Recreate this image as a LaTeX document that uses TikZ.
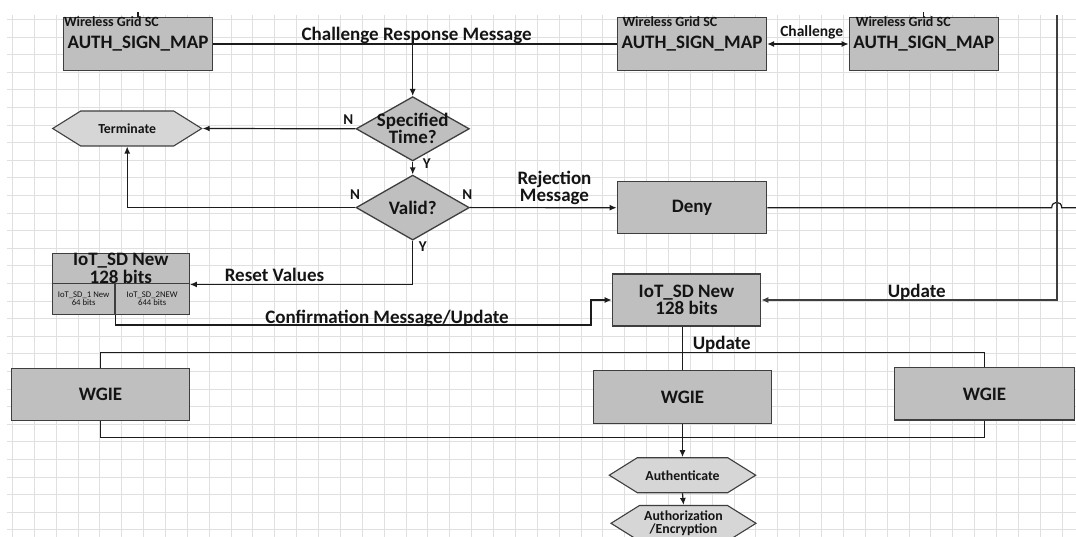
\documentclass[tikz,border=0pt]{standalone}
\usepackage{fontspec}
\setmainfont{Carlito}
\usetikzlibrary{shapes.geometric,shapes.symbols,arrows.meta,calc}

\definecolor{boxfill}{RGB}{191,191,191}
\definecolor{hexfill}{RGB}{214,214,214}
\definecolor{edge}{RGB}{62,62,62}
\definecolor{wire}{RGB}{28,28,28}
\definecolor{ink}{RGB}{20,20,20}
\definecolor{gridc}{RGB}{224,224,224}

\newcommand{\bigtxt}{\fontsize{19}{17.5}\selectfont\bfseries}
\newcommand{\midtxt}{\fontsize{13.8}{13.6}\selectfont\bfseries}

\tikzset{
  box/.style={rectangle, draw=edge, fill=boxfill, line width=1.3pt, inner sep=0pt,
              text=ink, align=center, font=\bigtxt},
  authbox/.style={box, minimum width=149, minimum height=52.5},
  wgie/.style={box, minimum height=52.3},
  cell/.style={box, minimum height=30.5, font=\fontsize{8.7}{8}\selectfont},
  decision/.style={diamond, draw=edge, fill=boxfill, line width=1.3pt, inner sep=0pt},
  hexa/.style={signal, signal to=east and west, signal pointer angle=64, draw=edge,
               fill=hexfill, line width=1.1pt, inner sep=0pt, minimum height=35,
               text=ink, align=center, font=\midtxt},
  lbl/.style={inner sep=0pt, text=ink, align=center, font=\bigtxt},
  yn/.style={inner sep=0pt, text=ink, font=\fontsize{15}{15}\selectfont\bfseries},
  caption/.style={inner sep=0pt, text=ink, anchor=west, font=\fontsize{14}{14}\selectfont\bfseries},
  wireline/.style={draw=wire, line width=1.2pt},
  arr/.style={wireline, -{Latex[length=7pt,width=6pt]}},
  darr/.style={wireline, {Latex[length=7pt,width=6pt]}-{Latex[length=7pt,width=6pt]}},
}

\begin{document}
\begin{tikzpicture}[x=1pt,y=-1pt]
\useasboundingbox (0,0) rectangle (1076,537);
\fill[white] (0,0) rectangle (1076,537);

% background drawing grid
\begin{scope}
  \clip (7,15) rectangle (1076,537);
  \foreach \i in {0,...,49}
    \draw[gridc, line width=1pt] ({12.4+21.87*\i},15) -- ({12.4+21.87*\i},537);
  \foreach \j in {0,...,29}
    \draw[gridc, line width=1pt] (7,{19.5+17.6*\j}) -- (1076,{19.5+17.6*\j});
\end{scope}

% smart-card blocks
\node[authbox] (A1) at (138,44) {AUTH\_SIGN\_MAP};
\node[authbox] (A2) at (692,44) {AUTH\_SIGN\_MAP};
\node[authbox] (A3) at (923.8,44) {AUTH\_SIGN\_MAP};
\node[caption] (A1t) at ($(A1.north west)+(1,4.7)$) {Wireless Grid SC};
\node[caption] (A2t) at ($(A2.north west)+(5.5,4.7)$) {Wireless Grid SC};
\node[caption] (A3t) at ($(A3.north west)+(7,4.7)$) {Wireless Grid SC};
\coordinate (A1up) at (138,12.5);
\coordinate (A3up) at (923.8,12.5);
\draw[wireline] (A1.north) -- (A1up);
\draw[wireline] (A3.north) -- (A3up);

% decisions
\node[decision, minimum width=113.3, minimum height=64.3] (spec) at (412.7,128.8) {};
\node[lbl] (spect) at (412.7,128.4) {Specified\\Time?};
\node[decision, minimum width=113.3, minimum height=65] (valid) at (412.7,207.6) {};
\node[lbl] (validt) at (412.7,207.6) {Valid?};

% terminators
\node[hexa, minimum width=149] (term) at (127.2,128.5) {Terminate};
\node[hexa, minimum width=146.4] (auth) at (682.5,475.2) {Authenticate};
\node[hexa, minimum width=145, minimum height=35.6] (authz) at (683.5,523.3) {Authorization\\/Encryption};

% process boxes
\node[box, minimum width=149.4, minimum height=52.3] (deny) at (692,207.7) {Deny};
\node[box, minimum width=148.4, minimum height=52] (iot2) at (686.5,300) {IoT\_SD New\\128 bits};
\node[box, minimum width=137, minimum height=30.5] (iot1) at (120.8,268.55) {IoT\_SD New\\128 bits};
\node[cell, minimum width=62.7] (iot1a) at (83.65,299.05) {IoT\_SD\_1 New\\64 bits};
\node[cell, minimum width=74.3] (iot1b) at (152.15,299.05) {IoT\_SD\_2NEW\\644 bits};

% WGIE engines
\node[wgie, minimum width=177.6] (w1) at (100.5,394.3) {WGIE};
\node[wgie, minimum width=178.4, minimum height=52.6] (w2) at (682.5,397) {WGIE};
\node[wgie, minimum width=180] (w3) at (984.5,393.9) {WGIE};

% challenge / response
\coordinate (crj) at (spec.north |- A1.east);
\draw[wireline] (A1.east) -- (A2.west);
\node[lbl] (crl) at (416.7,35) {Challenge Response Message};
\draw[darr] (A2.east) -- (A3.west);
\node[lbl, font=\fontsize{15.5}{15}\selectfont\bfseries] (chl) at (811.7,32.3) {Challenge};
\draw[arr] (crj) -- (spec.north);

% decision outcomes
\draw[arr] (spec.west) -- (term.east);
\node[yn] (n1) at (348.3,120) {N};
\draw[arr] (spec.south) -- (valid.north);
\node[yn] (y1) at (426.7,163.3) {Y};
\draw[arr] (valid.west) -| (term.south);
\node[yn] (n2) at (355,195) {N};
\draw[arr] (valid.east) -- (deny.west);
\node[yn] (n3) at (467.3,195) {N};
\node[lbl] (rej) at (554.5,188) {Rejection\\Message};
\draw[arr] (valid.south) |- (iot1.south east);
\node[yn] (y2) at (422.7,246.7) {Y};
\node[lbl] (rst) at (274.5,274.5) {Reset Values};

% confirmation path
\coordinate (cbend) at (591,325);
\draw[arr] (iot1a.south east) |- (cbend) |- (iot2.west);
\node[lbl] (conf) at (387,318.5) {Confirmation Message/Update};

% deny line with hop over the update feed
\coordinate (hopa) at (1051.7,207.7);
\coordinate (hopb) at (1061.7,207.7);
\coordinate (dend) at (1076,207.7);
\draw[wireline] (deny.east) -- (hopa) .. controls (1051.7,200.5) and (1061.7,200.5) .. (hopb) -- (dend);

% update feed from the right
\coordinate (rtop) at (1056.7,15);
\draw[arr, draw=edge, line width=1.6pt] (rtop) |- (iot2.east);
\node[lbl] (upd1) at (916.7,292.3) {Update};

% distribution to the WGIE engines
\draw[wireline] (iot2.south -| w2.north) -- (w2.north);
\node[lbl] (upd2) at (721.7,344) {Update};
\coordinate (busT) at (682.5,352.3);
\coordinate (busB) at (682.5,437.3);
\draw[wireline] (w1.north) |- (busT) -| (w3.north);
\draw[wireline] (w1.south) |- (busB) -| (w3.south);
\draw[arr] (w2.south) -- (auth.north);
\draw[arr] (auth.south) -- (authz.north);
\end{tikzpicture}
\end{document}
